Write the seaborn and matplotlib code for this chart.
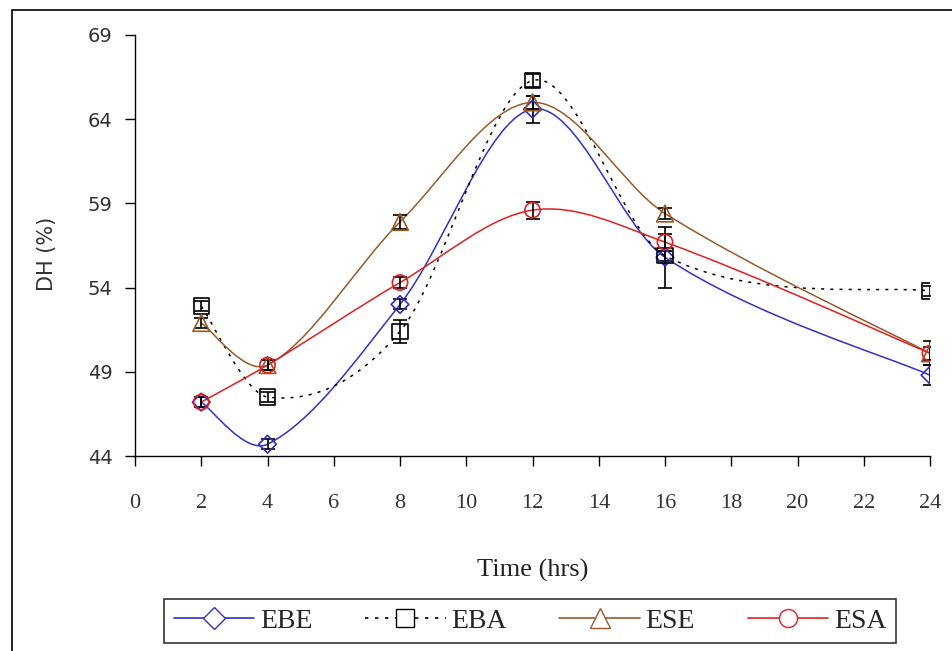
import numpy as np
import matplotlib
matplotlib.use("Agg")
import matplotlib.pyplot as plt
from matplotlib.path import Path
from matplotlib.patches import PathPatch, Rectangle
from matplotlib.lines import Line2D
import seaborn as sns

# data
time = [2, 4, 8, 12, 16, 24]
ebe = [47.2, 44.7, 53.0, 64.6, 55.8, 48.8]
eba = [52.9, 47.5, 51.4, 66.3, 55.9, 53.8]
ese = [51.9, 49.4, 57.9, 65.0, 58.4, 50.1]
esa = [47.2, 49.4, 54.3, 58.6, 56.7, 50.1]
ebe_err = [0.3, 0.3, 0.3, 0.8, 1.8, 0.6]
eba_err = [0.3, 0.3, 0.7, 0.4, 0.3, 0.3]
ese_err = [0.3, 0.3, 0.4, 0.4, 0.3, 0.4]
esa_err = [0.3, 0.3, 0.3, 0.5, 0.5, 0.7]

sns.set_style("ticks")
plt.rcParams['font.family'] = ['Liberation Serif', 'DejaVu Serif']

fig = plt.figure(figsize=(9.53, 6.51), dpi=100)
ax = fig.add_axes([135 / 953, 1 - 456 / 651, 795 / 953, 421 / 651])

# outer chart border
fig.patches.append(Rectangle((12 / 953, -0.05), 1.2, 1 - 10 / 651 + 0.05,
                             transform=fig.transFigure, fill=False,
                             edgecolor="black", linewidth=1.2))


def smooth_path(xs, ys):
    # smoothed line as cubic Bezier segments, tangents scaled for uneven x spacing
    p = np.column_stack([xs, ys]).astype(float)
    n = len(p)
    h = np.diff(p[:, 0])
    verts = [p[0]]
    codes = [Path.MOVETO]
    for i in range(n - 1):
        if i > 0:
            c1 = p[i] + (p[i + 1] - p[i - 1]) * h[i] / (h[i - 1] + h[i]) / 3
        else:
            c1 = p[i] + (p[i + 1] - p[i]) / 6
        if i + 2 < n:
            c2 = p[i + 1] - (p[i + 2] - p[i]) * h[i] / (h[i] + h[i + 1]) / 3
        else:
            c2 = p[i + 1] - (p[i + 1] - p[i]) / 6
        verts += [c1, c2, p[i + 1]]
        codes += [Path.CURVE4] * 3
    return Path(verts, codes)


series = [
    ("EBE", ebe, ebe_err, "#3030c8", "D", "-", 9),
    ("EBA", eba, eba_err, "black", "s", (0, (2, 4)), 11),
    ("ESE", ese, ese_err, "#9a5a2a", "^", "-", 12),
    ("ESA", esa, esa_err, "#e02020", "o", "-", 11),
]

handles = []
for name, ys, err, col, mk, ls, ms in series:
    ax.add_patch(PathPatch(smooth_path(time, ys), fill=False, edgecolor=col,
                           linestyle=ls, linewidth=1.1, zorder=2))
    ax.errorbar(time, ys, yerr=err, fmt="none", ecolor="black",
                elinewidth=1.2, capsize=5, capthick=1.2, zorder=3)
    sns.scatterplot(x=time, y=ys, ax=ax, marker=mk, s=ms ** 2,
                    facecolor="none", edgecolor=col, linewidth=1.2, zorder=4)
    handles.append(Line2D([], [], color=col, linestyle=ls, linewidth=1.2,
                          marker=mk, markersize=ms + 2, markerfacecolor="white",
                          markeredgecolor=col, label=name))

ax.set_xlim(0, 24)
ax.set_ylim(44, 69)
ax.set_xticks(range(0, 25, 2))
ax.set_yticks(range(44, 70, 5))
sns.despine(ax=ax)
for s in ["left", "bottom"]:
    ax.spines[s].set_color("black")
    ax.spines[s].set_linewidth(1.0)
ax.tick_params(axis="both", direction="out", length=7.2, width=1.0,
               colors="black", labelcolor="#333333")
ax.tick_params(axis="x", labelsize=16, pad=20)
ax.tick_params(axis="y", labelsize=14, pad=9)
for lab in ax.get_yticklabels():
    lab.set_family("DejaVu Sans")

ax.set_xlabel("Time (hrs)", fontsize=19, color="#222222")
ax.xaxis.set_label_coords(0.5, -0.245)
ax.set_ylabel("DH (%)", fontsize=15, color="#333333", family="DejaVu Sans")
ax.yaxis.set_label_coords(-0.098, 0.48)
ax.set_facecolor("none")

leg = fig.legend(handles=handles, loc="center", ncol=4,
                 bbox_to_anchor=(530 / 953, 1 - 621 / 651),
                 frameon=True, fancybox=False, fontsize=20,
                 handlelength=2.9, columnspacing=1.9, handletextpad=0.2,
                 borderpad=0.35)
leg.get_frame().set_edgecolor("black")
leg.get_frame().set_linewidth(1.2)

fig.savefig("out.png", dpi=100)
